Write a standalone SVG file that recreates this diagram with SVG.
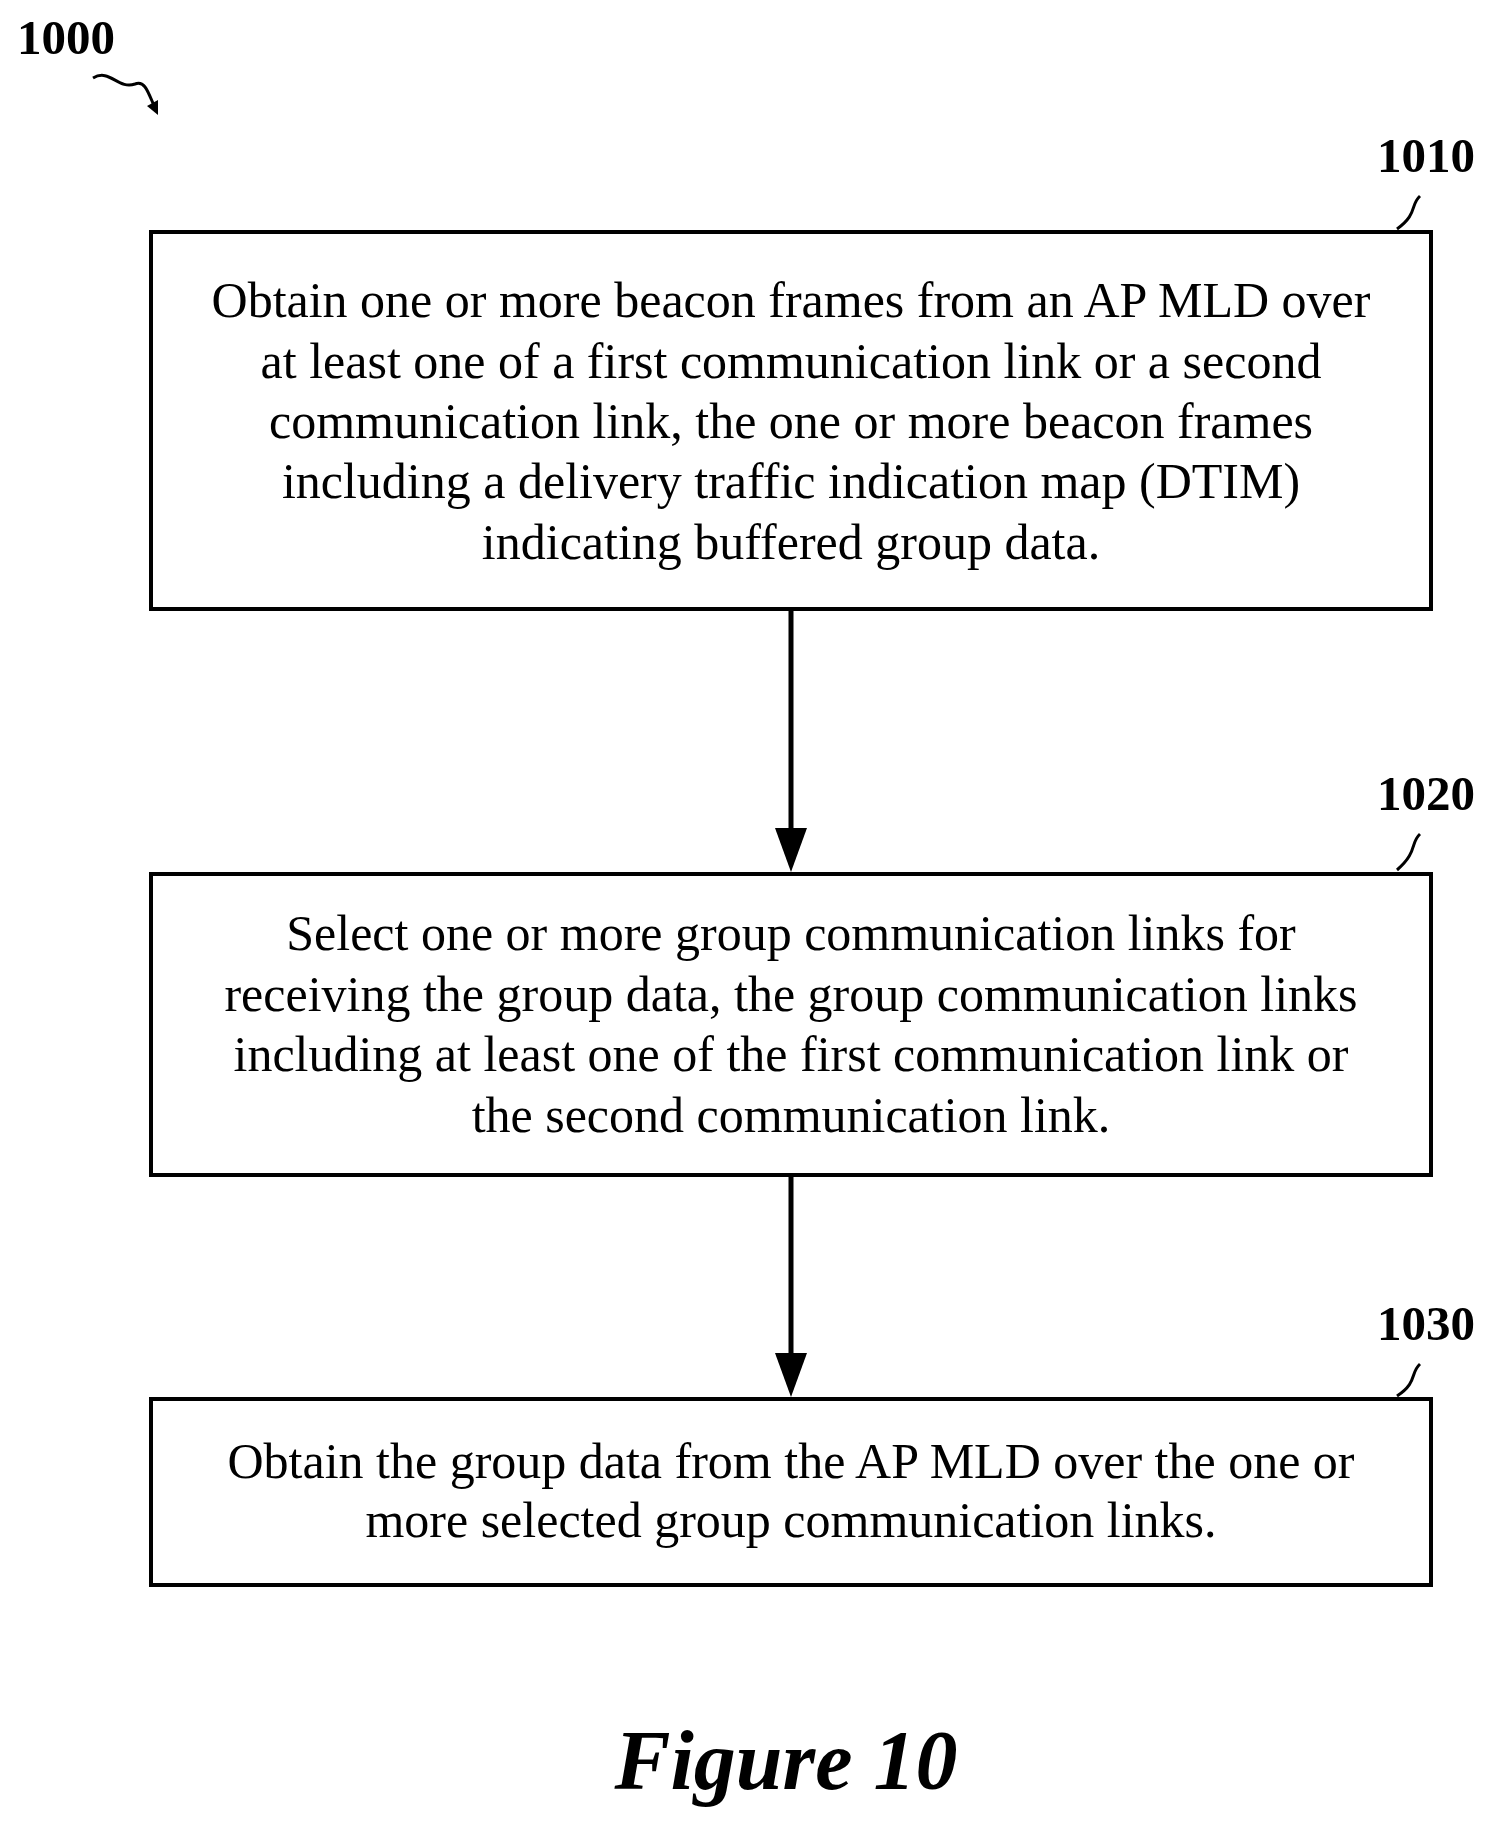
<svg xmlns="http://www.w3.org/2000/svg" width="1491" height="1824" viewBox="0 0 1491 1824">
<style>
.box{fill:#fff;stroke:#000;stroke-width:4}
.t{font-family:"Liberation Serif",serif;font-size:50px;text-anchor:middle}
.lbl{font-family:"Liberation Serif",serif;font-size:49px;font-weight:bold}
.sq{fill:none;stroke:#000;stroke-width:3}
.ln{stroke:#000;stroke-width:5}
</style>
<rect width="1491" height="1824" fill="#fff"/>
<g id="ref1000"><text class="lbl" x="17" y="54">1000</text>
<path class="sq" d="M93,78 C110,68 118,90 135,84 C145,80 148,92 155,108"/><path d="M147,106 L158,115 L158,100 Z"/></g>
<g id="n1010"><rect class="box" x="151" y="232" width="1280" height="377"/>
<text class="t" x="791" y="317">Obtain one or more beacon frames from an AP MLD over</text>
<text class="t" x="791" y="378">at least one of a first communication link or a second</text>
<text class="t" x="791" y="438">communication link, the one or more beacon frames</text>
<text class="t" x="791" y="498">including a delivery traffic indication map (DTIM)</text>
<text class="t" x="791" y="559">indicating buffered group data.</text>
<text class="lbl" x="1377" y="172">1010</text><path class="sq" d="M1420,196 C1410,205 1418,214 1397,229"/></g>
<g id="n1020"><rect class="box" x="151" y="874" width="1280" height="301"/>
<text class="t" x="791" y="950">Select one or more group communication links for</text>
<text class="t" x="791" y="1011">receiving the group data, the group communication links</text>
<text class="t" x="791" y="1071">including at least one of the first communication link or</text>
<text class="t" x="791" y="1132">the second communication link.</text>
<text class="lbl" x="1377" y="810">1020</text><path class="sq" d="M1420,834 C1410,843 1418,852 1397,870"/></g>
<g id="n1030"><rect class="box" x="151" y="1399" width="1280" height="186"/>
<text class="t" x="791" y="1478">Obtain the group data from the AP MLD over the one or</text>
<text class="t" x="791" y="1537">more selected group communication links.</text>
<text class="lbl" x="1377" y="1340">1030</text><path class="sq" d="M1420,1364 C1410,1373 1418,1382 1397,1396"/></g>
<g id="connectors">
<line class="ln" x1="791" y1="609" x2="791" y2="835"/><path d="M775,828 L807,828 L791,872 Z"/>
<line class="ln" x1="791" y1="1175" x2="791" y2="1360"/><path d="M775,1353 L807,1353 L791,1397 Z"/>
</g>
<text x="786" y="1789" style="font-family:'Liberation Serif',serif;font-size:84px;font-weight:bold;font-style:italic;text-anchor:middle">Figure 10</text>
</svg>
